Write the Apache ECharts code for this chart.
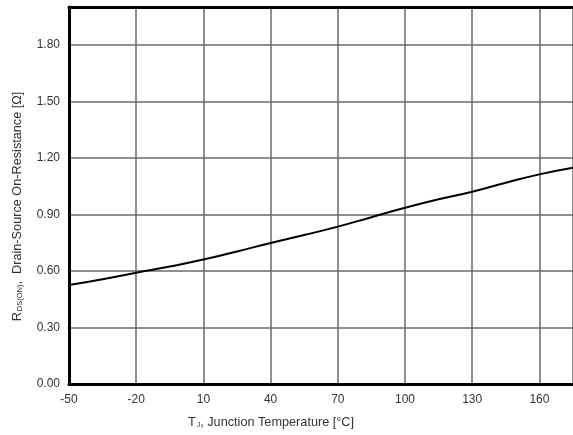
<!DOCTYPE html>
<html>
<head>
<meta charset="utf-8">
<script src="https://cdn.jsdelivr.net/npm/echarts@6/dist/echarts.min.js"></script>
<style>html,body{margin:0;padding:0;background:#fff;}#c{width:573px;height:435px;}</style>
</head>
<body>
<div id="c"></div>
<script>
var temps = [-50, -35, -20, -5, 10, 25, 40, 55, 70, 85, 100, 115, 130, 145, 160, 175];
var rdsOn = [0.525, 0.556, 0.590, 0.623, 0.660, 0.703, 0.748, 0.790, 0.835, 0.885, 0.935, 0.980, 1.020, 1.068, 1.112, 1.147];
var xTicks = [-50, -20, 10, 40, 70, 100, 130, 160];
var yTicks = [0, 0.3, 0.6, 0.9, 1.2, 1.5, 1.8];

var chart = echarts.init(document.getElementById('c'), null, {renderer: 'canvas'});
var font = '"Liberation Sans", Arial, sans-serif';
var data = temps.map(function (t, i) { return [t, rdsOn[i]]; });
chart.setOption({
  animation: false,
  backgroundColor: '#ffffff',
  grid: {left: 69, right: -4, top: 7, bottom: 51, containLabel: false},
  xAxis: [{
    type: 'value', min: -50, max: 175, interval: 30, position: 'bottom',
    axisLine: {show: true, onZero: false, lineStyle: {color: '#000', width: 3}},
    axisTick: {show: false},
    splitLine: {show: true, lineStyle: {color: '#6a6a6a', width: 1.5}},
    axisLabel: {color: '#333', fontFamily: font, fontSize: 12, margin: 10, showMaxLabel: false,
      formatter: function (v) { return xTicks.indexOf(v) >= 0 ? String(v) : ''; }},
    name: '{a|T}{s|J}{a|, Junction Temperature [°C]}',
    nameLocation: 'middle', nameGap: 32,
    nameTextStyle: {padding: [0, 100, 0, 0], rich: {
      a: {fontFamily: font, fontSize: 12.7, color: '#333'},
      s: {fontFamily: font, fontSize: 7, color: '#333', verticalAlign: 'bottom', padding: [6, 0, 0, 1]}
    }}
  }, {
    type: 'value', min: -50, max: 175, position: 'top',
    axisLine: {show: true, onZero: false, lineStyle: {color: '#000', width: 3}},
    axisTick: {show: false}, axisLabel: {show: false}, splitLine: {show: false}
  }],
  yAxis: {
    type: 'value', min: 0, max: 2.0, interval: 0.3,
    axisLine: {show: true, onZero: false, lineStyle: {color: '#000', width: 3}},
    axisTick: {show: false},
    splitLine: {show: true, lineStyle: {color: '#6a6a6a', width: 1.5}},
    axisLabel: {color: '#333', fontFamily: font, fontSize: 12, margin: 9, showMaxLabel: false,
      formatter: function (v) { return v.toFixed(2); }},
    name: '{a|R}{s|DS(ON)}{a|,  Drain-Source On-Resistance [Ω]}',
    nameLocation: 'middle', nameGap: 45,
    nameTextStyle: {padding: [0, 22, 0, 0], rich: {
      a: {fontFamily: font, fontSize: 12.7, color: '#333'},
      s: {fontFamily: font, fontSize: 7.5, color: '#333', verticalAlign: 'bottom', padding: [6, 0, 0, 1]}
    }}
  },
  series: [{
    type: 'line', data: data, smooth: true, showSymbol: false, xAxisIndex: 0,
    lineStyle: {color: '#000', width: 2}, clip: true
  }]
});
</script>
</body>
</html>
